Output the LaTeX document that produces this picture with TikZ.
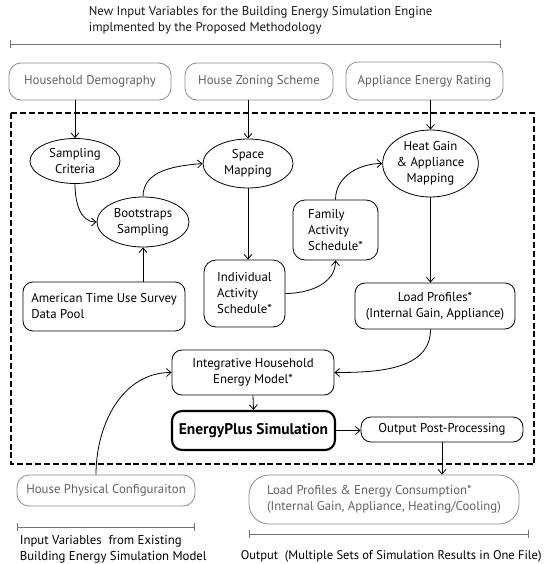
\documentclass[tikz,border=0pt]{standalone}
\usepackage{fontspec}
\setmainfont{PT Sans}
\usetikzlibrary{arrows.meta, shapes.geometric}

\tikzset{
  ell/.style={draw, ellipse, inner sep=0pt, align=center},
  rbox/.style={draw, rounded corners=7.5pt, inner sep=2pt},
  gbox/.style={draw=black!45, text=black!62, rounded corners=9pt, align=center},
  arr/.style={-{Straight Barb[length=3.5pt,width=6pt]}},
  brk/.style={draw=black!55, {Bar[width=6pt]}-{Bar[width=6pt]}},
}

\begin{document}
\begin{tikzpicture}[x=0.75pt, y=-0.75pt, line width=0.6pt,
    font=\fontsize{9.6}{12}\selectfont]
        \useasboundingbox (0,0) rectangle (543,564);

        % new input variables
        \node[anchor=west, align=left, text=black!90] (ttl) at (84,20)
            {New Input Variables for the Building Energy Simulation Engine\\implmented by the Proposed Methodology};
        \draw[brk] (10,44) -- (501,44);

        \node[gbox, minimum width=121.5pt, minimum height=27.75pt] (hhd) at (90,81.5) {Household Demography};
        \node[gbox, minimum width=111pt, minimum height=27.75pt] (hzs) at (259,81.5) {House Zoning Scheme};
        \node[gbox, minimum width=117.75pt, minimum height=28.5pt] (aer) at (424.5,81) {Appliance Energy Rating};

        % proposed methodology
        \draw[line width=1.4pt, dash pattern=on 4.5pt off 2.2pt] (11,113) rectangle (534,464);

        \node[ell, minimum width=67.5pt, minimum height=33.75pt] (sc) at (75,161) {Sampling\\Criteria};
        \node[ell, minimum width=69pt, minimum height=37.5pt] (bs) at (143,222) {Bootstraps\\Sampling};
        \node[ell, minimum width=67.5pt, minimum height=36.75pt] (sm) at (248,163.5) {Space\\Mapping};
        \node[ell, minimum width=68.25pt, minimum height=50.25pt] (hg) at (430.5,163.5) {Heat Gain\\\&~Appliance\\Mapping};

        \node[rbox, rounded corners=9pt, align=left, minimum width=63.75pt, minimum height=45pt] (fas) at (335.5,230)
            {Family\\Activity\\Schedule*};
        \node[rbox, rounded corners=9pt, align=left, minimum width=60.75pt, minimum height=50.25pt] (ias) at (244.5,293.5)
            {Individual\\Activity\\Schedule*};
        \node[rbox, align=left, minimum width=121.5pt, minimum height=36.75pt] (atus) at (104,306.5)
            {American Time Use Survey\\Data Pool};
        \node[rbox, align=center, minimum width=120pt, minimum height=34.5pt] (lp) at (435,306)
            {Load Profiles*\\(Internal Gain, Appliance)};

        \node[rbox, align=center, minimum width=121.5pt, minimum height=33.75pt] (ihem) at (253,372.5)
            {Integrative Household\\Energy Model*};
        \node[rbox, line width=1.6pt, minimum width=122.25pt, minimum height=29.25pt,
            font=\fontsize{11.6}{14}\selectfont\bfseries] (eps) at (253.5,430.5) {EnergyPlus Simulation};
        \node[rbox, minimum width=121.5pt, minimum height=18.75pt] (opp) at (442,429.5) {Output Post-Processing};

        % existing model and output
        \node[gbox, minimum width=133.5pt, minimum height=23.25pt] (hpc) at (106,490.5) {House Physical Configuraiton};
        \node[gbox, rounded corners=15pt, align=left, minimum width=202.5pt, minimum height=36.75pt] (lpec) at (384,499.5)
            {Load Profiles \& Energy Consumption*\\(Internal Gain, Appliance, Heating/Cooling)};

        \draw[brk] (17,527) -- (195,527);
        \draw[brk] (249,534) -- (529,534);
        \node[anchor=west, align=left] (inv) at (15,549)
            {Input Variables~ from Existing\\Building Energy Simulation Model};
        \node[anchor=west, font=\fontsize{9.4}{12}\selectfont] (outv) at (236,556)
            {Output~ (Multiple Sets of Simulation Results in One File)};

        \draw[arr] (sc.north |- hhd.south) -- (sc.north);
        \draw[arr] (sm.north |- hzs.south) -- (sm.north);
        \draw[arr] (hg.north |- aer.south) -- (hg.north);

        \draw[arr] (sc.south) to[out=270,in=180] (bs.west);
        \draw[arr] (bs.north) to[out=90,in=185] (sm.west);
        \draw[arr] (bs.south |- atus.north) -- (bs.south);
        \draw[arr] (sm.south) -- (sm.south |- ias.north);
        \draw[arr] (ias.east) to[out=0,in=270] (fas.south);
        \draw[arr] (fas.north) to[out=90,in=180] (hg.west);
        \draw[arr] (hg.south) -- (hg.south |- lp.north);
        \draw[arr] (hg.south |- lp.south) to[out=270,in=0] (ihem.east);
        \draw[arr] (ihem.south) -- (eps.north);
        \draw[arr] (eps.east) -- (eps.east -| opp.west);
        \draw[arr] ([xshift=-7.5pt]hpc.north) to[out=90,in=180] (ihem.west);
        \draw[arr] (opp.south) -- (opp.south |- lpec.north);

    \end{tikzpicture}
\end{document}
